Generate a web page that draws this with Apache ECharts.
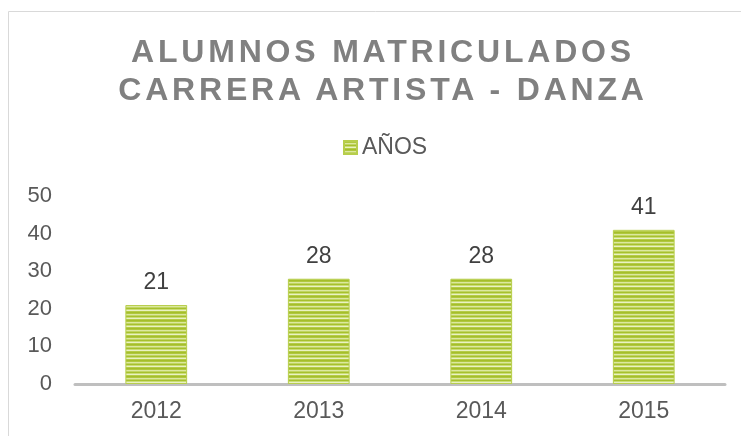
<!doctype html>
<html lang="es">
<head>
    <meta charset="UTF-8">
    <title>Alumnos matriculados</title>
    <script src="https://cdn.jsdelivr.net/npm/echarts@6/dist/echarts.min.js"></script>
    <style>
        html, body { margin: 0; padding: 0; background: #fff; }
        #wrap { position: relative; width: 741px; height: 436px; }
        #chart { position: absolute; left: 0; top: 0; width: 741px; height: 436px; }
        #titulo {
            position: absolute; left: 0; top: 32px; width: 766px;
            text-align: center; font-family: "Liberation Sans", Arial, sans-serif;
            font-weight: bold; font-size: 32px; line-height: 38px;
            letter-spacing: 3.8px; color: #808080; pointer-events: none;
        }
    </style>
</head>
<body>
<div id="wrap">
    <div id="chart"></div>
    <div id="titulo">ALUMNOS MATRICULADOS<br>CARRERA ARTISTA - DANZA</div>
</div>
<script type="text/javascript">
    // datos
    var anios = ['2012', '2013', '2014', '2015'];
    var alumnos = [21, 28, 28, 41];
    var nombreSerie = 'AÑOS';

    // relleno rayado de las barras
    var crearRayas = function () {
        var c = document.createElement('canvas');
        c.width = 4;
        c.height = 8;
        var ctx = c.getContext('2d');
        var filas = ['#a5be2a', '#b0c83f', '#dce8a0', '#c0d562', '#a7c02e', '#cadd76', '#eaf2c4', '#b5cc48'];
        filas.forEach(function (col, i) {
            ctx.fillStyle = col;
            ctx.fillRect(0, i, 4, 1);
        });
        return c;
    };

    var myChart = echarts.init(document.getElementById('chart'), null, {renderer: 'canvas'});
    var option = {
        animation: false,
        textStyle: {fontFamily: '"Liberation Sans", Arial, sans-serif'},
        graphic: [{
            type: 'rect',
            shape: {x: 8.5, y: 11.5, width: 900, height: 600},
            style: {fill: 'none', stroke: '#d9d9d9', lineWidth: 1},
            silent: true
        }],
        legend: {
            data: [{name: nombreSerie, icon: 'rect'}],
            left: 338,
            top: 131,
            itemWidth: 13,
            itemHeight: 13,
            itemGap: 5,
            textStyle: {fontSize: 23, color: '#595959'}
        },
        grid: {left: 75, right: 16, top: 196, bottom: 52},
        xAxis: {
            type: 'category',
            data: anios,
            axisLine: {lineStyle: {color: '#bfbfbf', width: 3}},
            axisTick: {show: false},
            axisLabel: {fontSize: 23, color: '#595959', margin: 16}
        },
        yAxis: {
            type: 'value',
            min: 0,
            max: 50,
            interval: 10,
            splitLine: {show: false},
            axisLine: {show: false},
            axisTick: {show: false},
            axisLabel: {fontSize: 22, color: '#595959', margin: 23}
        },
        series: [{
            name: nombreSerie,
            type: 'bar',
            data: alumnos,
            barWidth: '38%',
            itemStyle: {
                color: {image: crearRayas(), repeat: 'repeat'},
                borderColor: '#b7ce4c',
                borderWidth: 1
            },
            label: {
                show: true,
                position: 'top',
                distance: 11,
                fontSize: 23,
                color: '#404040'
            }
        }]
    };
    myChart.setOption(option);
</script>
</body>
</html>
